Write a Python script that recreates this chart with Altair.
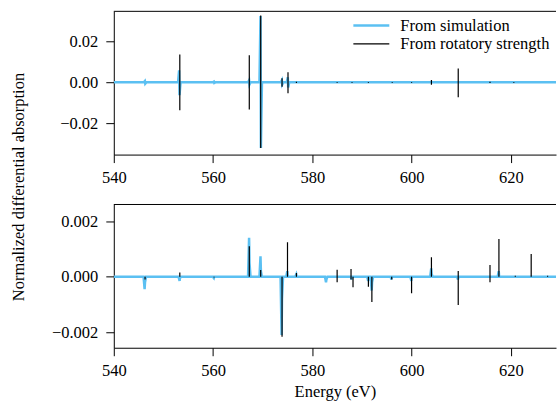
import altair as alt
import pandas as pd

# Energy axis range (eV) and tick positions
E_MIN, E_MAX = 540.0, 629.1
x_ticks = [540, 560, 580, 600, 620]

BLUE = "#5bc0f2"
FONT = "Liberation Serif"
FS = 16.5
W, H = 443, 143.5

# ---- upper panel ----
# rotatory-strength sticks: energy, lower end, upper end
top_stick_energy = [553.3, 567.3, 569.6, 573.9, 575.1, 576.8, 585.0, 588.0,
                    591.3, 596.1, 600.0, 604.0, 609.4, 615.8, 620.6]
top_stick_low = [-0.0137, -0.0133, -0.0322, -0.0022, -0.0054, -0.0003, -0.0002,
                 -0.0002, -0.0002, -0.0002, -0.0002, -0.0012, -0.0073, -0.0003, -0.0002]
top_stick_high = [0.0137, 0.0133, 0.0327, 0.0020, 0.0049, 0.0003, 0.0002,
                  0.0002, 0.0002, 0.0002, 0.0002, 0.0012, 0.0068, 0.0003, 0.0002]
# simulated spectrum: peak energy, first extreme, second extreme
top_sim_energy = [546.3, 553.2, 560.2, 567.3, 569.6, 573.9, 575.1]
top_sim_first = [0.0006, 0.0059, 0.0003, 0.0010, 0.0325, 0.0010, 0.0025]
top_sim_second = [-0.0006, -0.0063, -0.0003, -0.0010, -0.0322, -0.0010, -0.0025]

# ---- lower panel ----
bot_stick_energy = [546.3, 553.3, 560.2, 567.3, 569.6, 573.9, 575.0, 576.8,
                    585.0, 587.8, 588.2, 591.3, 592.0, 596.0, 600.0, 604.0,
                    609.4, 615.8, 617.6, 620.9, 624.1, 627.4]
bot_stick_low = [-0.0001, 0.0, -0.00003, 0.0, 0.0, -0.00216, 0.0, 0.0,
                 -0.0002, -0.0001, -0.00038, -0.00036, -0.00091, -0.0001, -0.0006, 0.0,
                 -0.00102, -0.0002, 0.0, 0.0, 0.0, 0.0]
bot_stick_high = [0.0, 0.00015, 0.0, 0.0011, 0.00024, 0.0, 0.00124, 0.00013,
                  0.00025, 0.00028, 0.0, 0.0, 0.0, 0.0, 0.0, 0.0007,
                  0.0002, 0.00042, 0.00136, 0.00003, 0.00082, 0.00003]
bot_sim_energy = [546.25, 553.3, 560.2, 567.3, 569.6, 573.85, 575.0, 576.8,
                  582.8, 588.0, 591.3, 592.0, 596.0, 600.0, 604.0, 609.4, 617.6]
bot_sim_first = [-0.00045, -0.00015, -0.00005, 0.0014, 0.00073, -0.0021, 0.0002, 0.00008,
                 -0.0002, -0.0001, -0.00015, -0.0005, -0.0001, -0.00015, 0.0003, -0.0001, 0.0002]
bot_sim_second = [-0.0002, -0.00005, 0.0, 0.0005, 0.0002, -0.0008, 0.0, 0.0,
                  -0.0001, 0.0, 0.0, -0.0002, 0.0, 0.0, 0.0001, 0.0, 0.0]


def sim_curve(energy, first, second):
    pts = [(E_MIN, 0.0), (E_MAX, 0.0)]
    for e, a, b in zip(energy, first, second):
        pts += [(e - 0.25, 0.0), (e - 0.04, a), (e + 0.04, b), (e + 0.25, 0.0)]
    return pd.DataFrame(sorted(pts), columns=["E", "v"])


def axis(**kw):
    return alt.Axis(grid=False, tickSize=8, labelFont=FONT,
                    labelFontSize=FS, titleFont=FONT, titleFontSize=FS,
                    titleFontWeight="normal", labelColor="black", titleColor="black",
                    domainColor="black", tickColor="black", **kw)


def panel(stick_e, stick_lo, stick_hi, sim_e, sim_a, sim_b, ydom, yticks, yfmt, xtitle):
    sticks = pd.DataFrame({"E": stick_e, "lo": stick_lo, "hi": stick_hi})
    sim = sim_curve(sim_e, sim_a, sim_b)
    if xtitle:
        xaxis = axis(values=x_ticks, format="d", labelFlush=False, labelPadding=7,
                     title=xtitle, titlePadding=4)
    else:
        xaxis = axis(values=x_ticks, format="d", labelFlush=False, labelPadding=7,
                     title=None)
    x = alt.X("E:Q", scale=alt.Scale(domain=[E_MIN, E_MAX], nice=False, zero=False),
              axis=xaxis)
    yaxis = axis(values=yticks, format=yfmt, labelPadding=8, title=None)
    yscale = alt.Scale(domain=ydom, nice=False, zero=False)

    line = alt.Chart(sim).mark_line(color=BLUE, strokeWidth=2.5, clip=True).encode(
        x=x, y=alt.Y("v:Q", scale=yscale, axis=yaxis))
    rules = alt.Chart(sticks).mark_rule(color="black", strokeWidth=1.2, clip=True).encode(
        x="E:Q", y="lo:Q", y2="hi:Q")
    frame_top = alt.Chart(pd.DataFrame({"k": [0]})).mark_rule(
        color="black", strokeWidth=1).encode(
        x=alt.value(0), x2=alt.value(W), y=alt.value(0))
    return alt.layer(line, rules, frame_top).properties(width=W, height=H)


top = panel(top_stick_energy, top_stick_low, top_stick_high,
            top_sim_energy, top_sim_first, top_sim_second,
            [-0.0354, 0.0348], [-0.02, 0.0, 0.02], ".2f", None)

one = pd.DataFrame({"k": [0]})
legend_lines = [
    alt.Chart(one).mark_rule(color=BLUE, strokeWidth=2.5).encode(
        x=alt.value(240), x2=alt.value(276), y=alt.value(14.3)),
    alt.Chart(one).mark_rule(color="black", strokeWidth=1.2).encode(
        x=alt.value(240), x2=alt.value(276), y=alt.value(32.6)),
    alt.Chart(one).mark_text(font=FONT, fontSize=FS, align="left", baseline="middle",
                             color="black").encode(
        x=alt.value(287), y=alt.value(14.3), text=alt.value("From simulation")),
    alt.Chart(one).mark_text(font=FONT, fontSize=FS, align="left", baseline="middle",
                             color="black").encode(
        x=alt.value(287), y=alt.value(32.6), text=alt.value("From rotatory strength")),
    alt.Chart(one).mark_text(font=FONT, fontSize=FS, align="center", baseline="middle",
                             angle=270, color="black").encode(
        x=alt.value(-95), y=alt.value(176),
        text=alt.value("Normalized differential absorption")),
]
top = alt.layer(top, *legend_lines)

bottom = panel(bot_stick_energy, bot_stick_low, bot_stick_high,
               bot_sim_energy, bot_sim_first, bot_sim_second,
               [-0.00256, 0.0026], [-0.002, 0.0, 0.002], ".3f", "Energy (eV)")

chart = alt.vconcat(top, bottom, spacing=49.5, bounds="flush").properties(
    padding={"left": 10, "top": 10, "right": 0, "bottom": 0}
).configure(font=FONT).configure_view(stroke="transparent")

chart.save("out.html", embed_options={"renderer": "svg", "actions": False})
